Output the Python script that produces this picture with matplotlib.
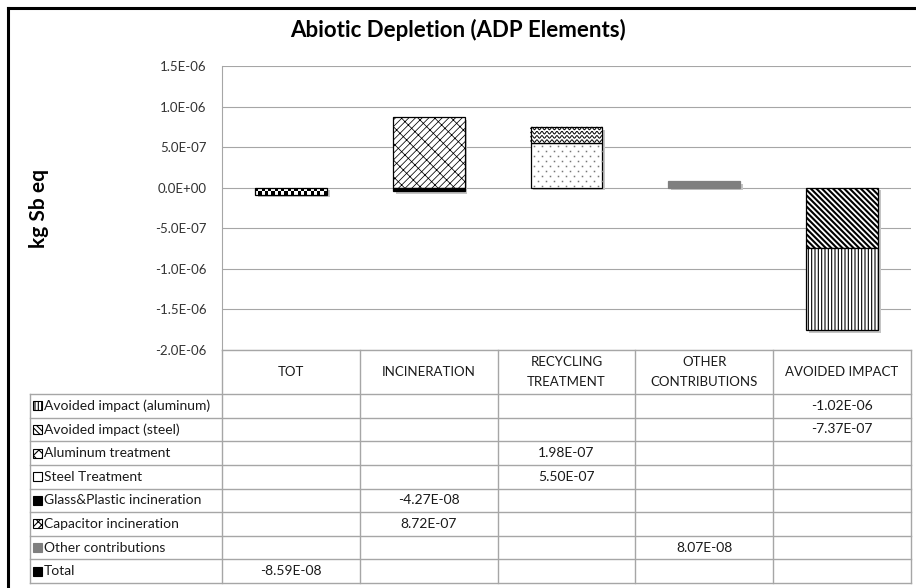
import numpy as np
import matplotlib.pyplot as plt
from matplotlib.patches import Rectangle
from matplotlib.lines import Line2D
from matplotlib.transforms import ScaledTranslation

plt.rcParams['font.family'] = ['Lato', 'DejaVu Sans']
plt.rcParams['hatch.linewidth'] = 0.8

nan = np.nan
categories = ['TOT', 'INCINERATION', 'RECYCLING\nTREATMENT',
              'OTHER\nCONTRIBUTIONS', 'AVOIDED IMPACT']
series = ['Avoided impact (aluminum)', 'Avoided impact (steel)',
          'Aluminum treatment', 'Steel Treatment',
          'Glass&Plastic incineration', 'Capacitor incineration',
          'Other contributions', 'Total']

avoided_alu = [nan, nan, nan, nan, -1.02e-06]
avoided_steel = [nan, nan, nan, nan, -7.37e-07]
alu_treatment = [nan, nan, 1.98e-07, nan, nan]
steel_treatment = [nan, nan, 5.50e-07, nan, nan]
glass_plastic = [nan, -4.27e-08, nan, nan, nan]
capacitor = [nan, 8.72e-07, nan, nan, nan]
other = [nan, nan, nan, 8.07e-08, nan]
total = [-8.59e-08, nan, nan, nan, nan]
values = [avoided_alu, avoided_steel, alu_treatment, steel_treatment,
          glass_plastic, capacitor, other, total]

yticks = [-2.0e-06, -1.5e-06, -1.0e-06, -5.0e-07, 0.0, 5.0e-07, 1.0e-06, 1.5e-06]

# fill style per series: (face, edge, hatch, extra)
styles = [
    ('white', 'black', '|||||', None),
    ('white', 'black', '\\' * 6, 'thick'),
    ('white', 'black', None, 'wave'),
    ('white', 'black', None, 'dots'),
    ('black', 'black', None, None),
    ('white', 'black', '/' * 5 + '\\' * 2, 'thin'),
    ('#7f7f7f', '#7f7f7f', None, None),
    ('none', 'black', None, 'checker'),
]

W, H = 916, 588
fig = plt.figure(figsize=(W / 100, H / 100), dpi=100)


def fbox(l, t, r, b):
    return [l / W, 1 - b / H, (r - l) / W, (b - t) / H]


ax = fig.add_axes(fbox(222, 66, 911, 350))
ax.set_autoscale_on(False)
ax.set_xlim(-0.5, 4.5)
ax.set_ylim(-2.0e-06, 1.5e-06)

x = np.arange(len(categories))
pos = np.zeros(len(categories))
neg = np.zeros(len(categories))
shadow_tr = ax.transData + ScaledTranslation(2 / 72, -2 / 72, fig.dpi_scale_trans)
custom = []

# stack from the last series up, like the spreadsheet does
for i in reversed(range(len(series))):
    v = np.array(values[i])
    m = ~np.isnan(v)
    base = np.where(v >= 0, pos, neg)[m]
    face, edge, hatch, extra = styles[i]
    bars = ax.bar(x[m], v[m], width=0.52, bottom=base, color=face,
                  edgecolor=edge, hatch=hatch, linewidth=0.9, zorder=3)
    for p in bars:
        ax.add_patch(Rectangle(p.get_xy(), p.get_width(), p.get_height(),
                               transform=shadow_tr, fc='#c4c4c4', ec='none',
                               zorder=2))
        if hasattr(p, 'set_hatch_linewidth'):
            if extra == 'thick':
                p.set_hatch_linewidth(1.5)
            elif extra == 'thin':
                p.set_hatch_linewidth(0.55)
        if extra in ('wave', 'dots'):
            custom.append((p, extra))
        if extra == 'checker':
            chk = np.indices((2, 22)).sum(axis=0) % 2
            x0, y0 = p.get_xy()
            im = ax.imshow(chk, cmap='gray', aspect='auto', interpolation='nearest',
                           extent=(x0, x0 + p.get_width(), y0 + p.get_height(), y0),
                           zorder=2.9)
            im.set_clip_path(p)
    pos = np.where(v >= 0, np.nan_to_num(v) + pos, pos)
    neg = np.where(v < 0, np.nan_to_num(v) + neg, neg)

ax.set_xlim(-0.5, 4.5)
ax.set_ylim(-2.0e-06, 1.5e-06)

# wavy and dotted fills, laid out in pixels and clipped to their bar
inv = ax.transData.inverted()
for p, kind in custom:
    (px0, py0), (px1, py1) = ax.transData.transform(
        [p.get_xy(), (p.get_x() + p.get_width(), p.get_y() + p.get_height())])
    lo, hi = sorted((py0, py1))
    if kind == 'wave':
        xs = np.linspace(px0, px1, 300)
        for yc in np.arange(lo + 2.0, hi + 2, 4.2):
            pts = inv.transform(np.column_stack(
                [xs, yc + 1.3 * np.sin(2 * np.pi * (xs - px0) / 5.0)]))
            ax.plot(pts[:, 0], pts[:, 1], color='black', lw=0.7, zorder=3.1,
                    clip_path=p)
    else:
        for r, yc in enumerate(np.arange(hi - 3, lo, -5.0)):
            xs = np.arange(px0 + 3 + (r % 2) * 4, px1, 8.0)
            pts = inv.transform(np.column_stack([xs, np.full_like(xs, yc)]))
            ax.plot(pts[:, 0], pts[:, 1], ls='none', marker='s', ms=1.1,
                    mec='none', mfc='#777777', zorder=3.1, clip_path=p)

ax.set_yticks(yticks)
ax.yaxis.set_major_formatter(plt.FuncFormatter(lambda v, _: f'{v:.1E}'))
ax.grid(axis='y', color='#a6a6a6', linewidth=0.8)
ax.set_axisbelow(True)
for s in ('top', 'right', 'bottom'):
    ax.spines[s].set_visible(False)
ax.spines['left'].set_color('#a6a6a6')
ax.tick_params(length=0, pad=11, labelsize=9.5, labelbottom=False, colors='#333333')

# data table under the chart
tab = fig.add_axes(fbox(30, 350, 911, 583))
tab.axis('off')
cat_w = (911 - 222) / len(categories)
xmin = -0.5 - (222 - 30) / cat_w
tab.set_xlim(xmin, len(categories) - 0.5)
tab.set_ylim(233, 0)
head_h = 44
row_h = (233 - head_h) / len(series)
lc = '#a6a6a6'

tab.add_line(Line2D([-0.5, 4.5], [0, 0], color=lc, lw=1, clip_on=False))
for k in range(len(categories) + 1):
    tab.add_line(Line2D([k - 0.5, k - 0.5], [0, 233], color=lc, lw=1, clip_on=False))
tab.add_line(Line2D([xmin, xmin], [head_h, 233], color=lc, lw=1, clip_on=False))
for r in range(len(series) + 1):
    y = head_h + r * row_h
    tab.add_line(Line2D([xmin, 4.5], [y, y], color=lc, lw=1, clip_on=False))

for j, cat in enumerate(categories):
    tab.text(j, head_h / 2, cat, ha='center', va='center', fontsize=9.5,
             linespacing=1.7, color='#1a1a1a')

px = 1 / cat_w
for r, name in enumerate(series):
    yc = head_h + (r + 0.5) * row_h
    face, edge, hatch, extra = styles[r]
    sw_hatch = {'wave': 'xxx', 'dots': '.', 'checker': '++'}.get(extra, hatch)
    sw = Rectangle((xmin + 3 * px, yc - 4.5), 9 * px, 9,
                   fc='black' if extra == 'checker' else face,
                   ec=edge, hatch=sw_hatch, lw=0.8)
    tab.add_patch(sw)
    tab.text(xmin + 14 * px, yc, name, ha='left', va='center', fontsize=10,
             color='#1a1a1a')
    for j, v in enumerate(values[r]):
        if not np.isnan(v):
            tab.text(j, yc, f'{v:.2E}', ha='center', va='center', fontsize=10,
                     color='#1a1a1a')

fig.text(458 / W, 1 - 30 / H, 'Abiotic Depletion (ADP Elements)', ha='center',
         va='center', fontsize=16, fontweight='bold')
fig.text(39 / W, 1 - 209 / H, 'kg Sb eq', rotation=90, ha='center', va='center',
         fontsize=15, fontweight='bold')

# frame lines on the top and left edge
fig.add_artist(Line2D([8 / W, 8 / W], [0, 1 - 8 / H], color='black', lw=2.2))
fig.add_artist(Line2D([8 / W, 1], [1 - 8 / H, 1 - 8 / H], color='black', lw=2.2))

fig.savefig('out.png', dpi=100)
